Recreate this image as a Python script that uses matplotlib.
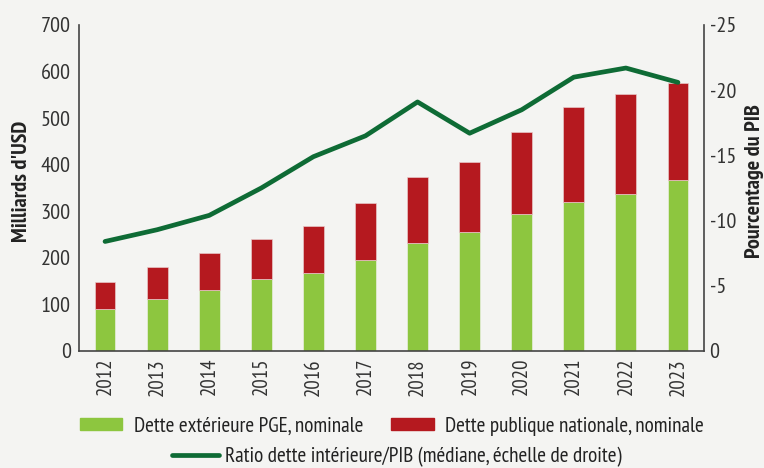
import numpy as np
import matplotlib.pyplot as plt
from matplotlib.patches import Patch
from matplotlib.lines import Line2D

plt.rcParams['font.family'] = ['PT Sans Narrow', 'DejaVu Sans']

years = ['2012', '2013', '2014', '2015', '2016', '2017',
         '2018', '2019', '2020', '2021', '2022', '2023']
# stacked totals (USD bn)
ext_pge = [90, 112, 132, 154, 168, 195, 231, 256, 295, 321, 338, 367]
total = [148, 180, 210, 241, 269, 317, 374, 405, 470, 523, 552, 575]
dom_public = [t - e for t, e in zip(total, ext_pge)]
# median domestic debt / GDP, right axis (shown as negative values)
ratio = [-8.4, -9.3, -10.4, -12.5, -14.9, -16.5,
         -19.1, -16.7, -18.5, -21.0, -21.7, -20.6]

c_green = '#8dc63f'
c_red = '#b5191f'
c_line = '#0e6b35'
c_text = '#333333'
bg = '#f4f4f2'

fig = plt.figure(figsize=(7.64, 4.68), dpi=100, facecolor=bg)
ax = fig.add_axes([79/764, 1 - 351/468, (704 - 79)/764, (351 - 25)/468])
ax.set_facecolor(bg)

x = np.arange(len(years))
ax.bar(x, ext_pge, width=0.4, color=c_green, edgecolor='#e8eedd', linewidth=0.5)
ax.bar(x, dom_public, width=0.4, bottom=ext_pge, color=c_red,
       edgecolor='#e8c8c8', linewidth=0.5)

ax.set_xlim(-0.5, len(years) - 0.5)
ax.set_ylim(0, 700)
ax.set_yticks(range(0, 701, 100))
ax.set_xticks(x)
ax.set_xticklabels(years, rotation=90)
ax.tick_params(axis='both', length=0, labelsize=16, colors=c_text)
ax.tick_params(axis='x', labelsize=15, pad=5)
ax.tick_params(axis='y', pad=6)
for s in ['top', 'right']:
    ax.spines[s].set_visible(False)
for s in ['left', 'bottom']:
    ax.spines[s].set_color('#444444')
    ax.spines[s].set_linewidth(1.2)

ax2 = ax.twinx()
ax2.plot(x, ratio, color=c_line, linewidth=3.4, solid_capstyle='round')
ax2.set_ylim(0, -25)
ax2.set_yticks([0, -5, -10, -15, -20, -25])
ax2.set_yticklabels(['0', '-5', '-10', '-15', '-20', '-25'])
ax2.tick_params(axis='y', length=0, labelsize=16, colors=c_text, pad=4)
for s in ['top', 'left', 'bottom']:
    ax2.spines[s].set_visible(False)
ax2.spines['right'].set_color('#444444')
ax2.spines['right'].set_linewidth(1.2)

# axis titles placed on the figure so the right one stays inside the canvas
fig.text(22/764, 1 - 181/468, "Milliards d'USD", rotation=90, ha='center', va='center',
         fontsize=16, fontweight='bold', color='#222222')
fig.text(755/764, 1 - 181/468, 'Pourcentage du PIB', rotation=90, ha='center', va='center',
         fontsize=16, fontweight='bold', color='#222222')

h1 = [Patch(color=c_green, label='Dette extérieure PGE, nominale'),
      Patch(color=c_red, label='Dette publique nationale, nominale')]
fig.legend(handles=h1, loc='center', bbox_to_anchor=(392/764, 1 - 426/468),
           ncol=2, frameon=False, fontsize=15.3, handlelength=2.0, handleheight=0.45,
           columnspacing=1.3, handletextpad=0.55, labelcolor='#222222')
h2 = [Line2D([0], [0], color=c_line, linewidth=3.4, solid_capstyle='round',
             label='Ratio dette intérieure/PIB (médiane, échelle de droite)')]
fig.legend(handles=h2, loc='center', bbox_to_anchor=(397/764, 1 - 457/468),
           frameon=False, fontsize=15.3, handlelength=2.2, handletextpad=0.3,
           labelcolor='#222222')

fig.savefig('out.png', dpi=100, facecolor=bg)
